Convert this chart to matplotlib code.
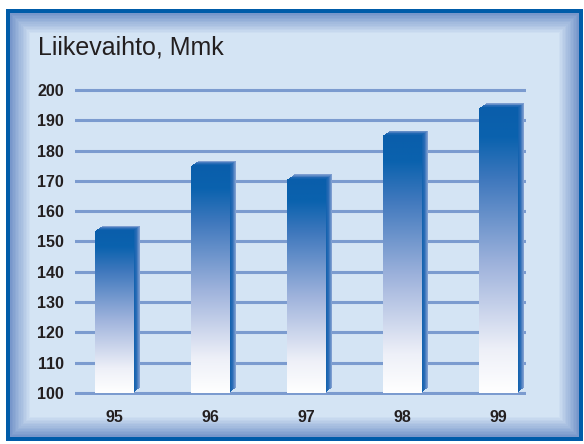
import matplotlib.pyplot as plt
import numpy as np
from matplotlib import colors, transforms
from matplotlib.patches import Rectangle

plt.rcParams['font.family'] = ['Liberation Sans', 'DejaVu Sans']

years = ['95', '96', '97', '98', '99']
revenue = [153.5, 175, 170.5, 185, 194]
yticks = [100, 110, 120, 130, 140, 150, 160, 170, 180, 190, 200]
title = "Liikevaihto, Mmk"

W, H = 584, 444
fig = plt.figure(figsize=(W / 100, H / 100), dpi=100)
fig.patch.set_facecolor('white')

# background frame with bevel
bg = fig.add_axes([0, 0, 1, 1])
bg.set_xlim(0, W)
bg.set_ylim(H, 0)
bg.axis('off')
bg.add_patch(Rectangle((6, 9), 577, 432, color='#005ca9', lw=0))
bevel = colors.LinearSegmentedColormap.from_list('bev', ['#7897cb', '#d4e4f4'])
steps = 14
for i in range(steps):
    inset = 4 + i * 22 / steps
    bg.add_patch(Rectangle((6 + inset, 9 + inset), 577 - 2 * inset, 432 - 2 * inset,
                           color=bevel(i / (steps - 1)), lw=0))
bg.text(38, 47, title, fontsize=18, color='#231f20', va='center', ha='left')

# chart
ax = fig.add_axes([75 / W, 1 - 394.5 / H, (526 - 75) / W, (394.5 - 88.5) / H])
ax.set_facecolor('none')
for s in ax.spines.values():
    s.set_visible(False)
for y in yticks:
    ax.axhline(y, color='#7b9bcf', lw=2.2, zorder=1)
ax.set_yticks(yticks)
ax.set_xticks(range(len(years)))
ax.set_xticklabels(years)
ax.tick_params(length=0)
ax.tick_params(axis='y', pad=8, labelsize=11.5)
ax.tick_params(axis='x', pad=11, labelsize=11.5)
for lab in ax.get_xticklabels() + ax.get_yticklabels():
    lab.set_fontweight('bold')
    lab.set_color('#231f20')

x = np.arange(len(years))
heights = [v - 100 for v in revenue]
width = 0.4

# extrusion (side + top faces)
side = colors.LinearSegmentedColormap.from_list('side', ['#0a5eab', '#2a6cb6', '#7d9dd0'])
depth = 7
for k in range(depth, 0, -1):
    off = transforms.ScaledTranslation(k / 100, 0.7 * k / 100, fig.dpi_scale_trans)
    ax.bar(x, heights, width, bottom=100, color=side((k - 1) / (depth - 1)),
           lw=0, zorder=2, transform=ax.transData + off)

# front faces with vertical gradient
front = colors.LinearSegmentedColormap.from_list(
    'front', [(0, '#ffffff'), (0.15, '#eef0f8'), (0.45, '#9fb3dc'),
              (0.75, '#3f78bd'), (0.9, '#0a62ae'), (1, '#0a5eab')])
grad = np.linspace(0, 1, 256).reshape(-1, 1)
bars = ax.bar(x, heights, width, bottom=100, color='none', lw=0, zorder=3)
for b in bars:
    x0, y0 = b.get_x(), b.get_y()
    im = ax.imshow(grad, cmap=front, origin='lower', aspect='auto', zorder=3,
                   extent=(x0, x0 + b.get_width(), y0, y0 + b.get_height()))
    im.set_clip_path(b)

ax.set_xlim(-0.406, 4.29)
ax.set_ylim(99.5, 200.5)

fig.savefig('out.png', dpi=100)
